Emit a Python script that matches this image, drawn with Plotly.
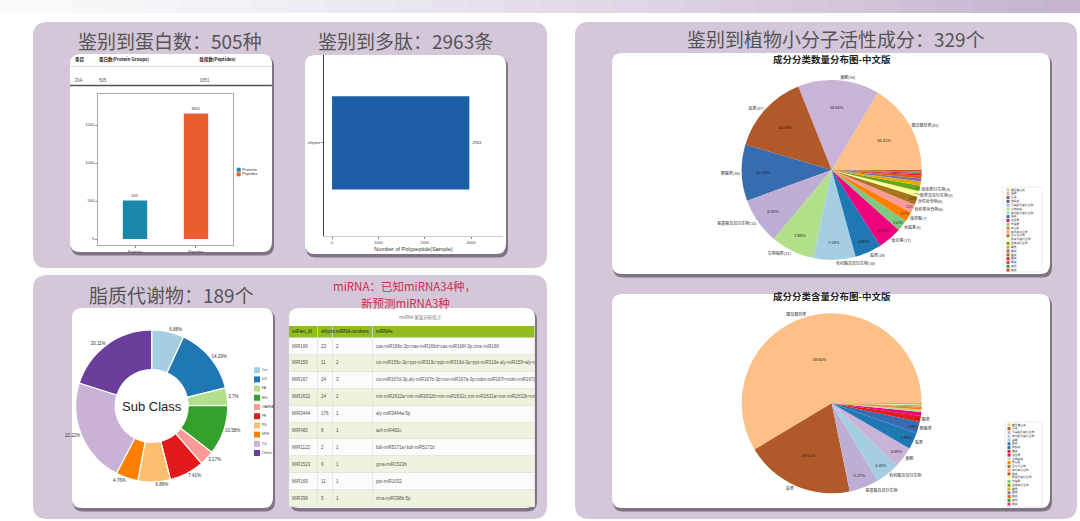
import plotly.graph_objects as go

W, H = 1080, 521

# ---------------- data ----------------
protein_header = ["条目", "蛋白数(Protein Groups)", "肽段数(Peptides)"]
protein_sample = ["DIA"]
protein_groups = [505]
peptide_count = [1651]

bar_categories = ["Proteins", "Peptides"]
bar_values = [505, 1651]

poly_sample = ["sthymz"]
poly_values = [2963]

count_labels = ["糖及糖苷类", "黄酮", "萜类", "酚酸类", "氨基酸及其衍生物", "生物碱类",
                "有机酸及其衍生物", "脂类", "香豆素", "木脂素", "核苷酸", "有机氧化合物",
                "含氮化合物", "醇类及其衍生物", "甾体类衍生物", "鞣质", "醌类", "醛类",
                "酯类", "酮类", "其他", "胺类"]
count_values = [65, 58, 57, 40, 33, 31, 30, 19, 17, 8, 7, 6, 6, 4, 4, 3, 2, 2, 1, 1, 1, 1]

content_labels = ["糖及糖苷类", "萜类", "氨基酸及其衍生物", "有机酸及其衍生物", "黄酮", "脂类",
                  "酚酸类", "酯类", "香豆素", "生物碱类", "核苷酸", "含氮化合物", "有机氧化合物",
                  "胺类", "醇类及其衍生物", "木脂素", "甾体类衍生物", "鞣质", "醌类", "醛类",
                  "其他", "酮类"]
content_values = [58.60, 19.62, 5.27, 4.45, 3.69, 2.96, 2.06, 1.10, 0.70, 0.45, 0.30,
                  0.20, 0.15, 0.12, 0.10, 0.06, 0.05, 0.04, 0.03, 0.02, 0.02, 0.01]

lipid_classes = ["Cer", "DG", "FA", "MG", "OAHFA", "PE", "PG", "SPH", "TG", "Others"]
lipid_counts = [13, 27, 7, 20, 6, 14, 13, 9, 42, 38]

mirna_fam = ["MIR166", "MIR159", "MIR167", "MIR2632", "MIR3444", "MIR482", "MIR1122",
             "MIR1523", "MIR169", "MIR398"]
mirna_sthymz = [23, 11, 24, 24, 176, 8, 2, 9, 11, 5]
mirna_numbers = [2, 2, 3, 2, 1, 1, 1, 1, 1, 1]
mirna_members = [
    "cas-miR166c-3p>cas-miR166d>cas-miR166f-3p,cme-miR166",
    "csi-miR159c-3p>ppt-miR319c>ppt-miR319d-3p>ppt-miR319e,aly-miR159>aly-miR159",
    "csi-miR167d-3p,aly-miR167b-3p>csi-miR167a-3p,mdm-miR167i>mdm-miR167j>mdm",
    "mtr-miR2632a>mtr-miR2632b>mtr-miR2632c,mtr-miR2632a>mtr-miR2632b>mtr-miR2",
    "aly-miR3444a-5p",
    "aof-miR482c",
    "bdi-miR5171a>bdi-miR5171b",
    "gma-miR1523b",
    "ppt-miR1032",
    "zma-miR398b-5p",
]
mirna_header = ["miFam_id", "sthymz", "miRNA numbers", "miRNAs"]

# ---------------- styles ----------------
CJK = "Noto Sans CJK SC"
LAT = "Liberation Sans"
PANEL = "#d5c7da"
TITLE_C = "#555555"

category_color = {
    "糖及糖苷类": "#fdc086", "黄酮": "#c9b3d6", "萜类": "#b15928", "酚酸类": "#386cb0",
    "氨基酸及其衍生物": "#beaed4", "生物碱类": "#b2df8a", "有机酸及其衍生物": "#a6cee3",
    "脂类": "#1f78b4", "香豆素": "#f0027f", "木脂素": "#7fc97f", "核苷酸": "#ff7f00",
    "有机氧化合物": "#fb9a99", "含氮化合物": "#a6761d", "醇类及其衍生物": "#ffff99",
    "甾体类衍生物": "#66a61e", "鞣质": "#e6ab02", "醌类": "#7570b3", "醛类": "#d95f02",
    "酯类": "#e41a1c", "酮类": "#e7298a", "其他": "#33a02c", "胺类": "#bf5b17",
}
lipid_colors = ["#a6cee3", "#1f78b4", "#b2df8a", "#33a02c", "#fb9a99", "#e31a1c",
                "#fdbf6f", "#ff7f00", "#cab2d6", "#6a3d9a"]
bar_colors = ["#1b87a9", "#ea5d2e"]

# miRNA table geometry (pixels)
mt_x0, mt_x1, mt_y0, mt_y1 = 289, 535, 326, 507
mt_colwidths = [29, 15, 40, 162]
mt_header_h, mt_row_h = 12, 16.9
mt_pad = 3


def X(px):
    return px / W


def Y(py):
    return 1 - py / H


def rrect(x0, y0, x1, y1, r):
    p = [
        f"M {X(x0 + r)},{Y(y0)}", f"L {X(x1 - r)},{Y(y0)}",
        f"Q {X(x1)},{Y(y0)} {X(x1)},{Y(y0 + r)}", f"L {X(x1)},{Y(y1 - r)}",
        f"Q {X(x1)},{Y(y1)} {X(x1 - r)},{Y(y1)}", f"L {X(x0 + r)},{Y(y1)}",
        f"Q {X(x0)},{Y(y1)} {X(x0)},{Y(y1 - r)}", f"L {X(x0)},{Y(y0 + r)}",
        f"Q {X(x0)},{Y(y0)} {X(x0 + r)},{Y(y0)}", "Z",
    ]
    return " ".join(p)


shapes = []


def add_rrect(x0, y0, x1, y1, r, fill, line_color=None, lw=0):
    shapes.append(dict(type="path", xref="paper", yref="paper", path=rrect(x0, y0, x1, y1, r),
                       fillcolor=fill, line=dict(width=lw, color=line_color or fill),
                       layer="below"))


# top gradient band
n_seg = 30
for i in range(n_seg):
    t = (i / (n_seg - 1)) ** 1.3
    r = int(250 + (196 - 250) * t)
    g = int(250 + (180 - 250) * t)
    b = int(252 + (206 - 252) * t)
    shapes.append(dict(type="rect", xref="paper", yref="paper",
                       x0=X(W * i / n_seg), x1=X(W * (i + 1) / n_seg) + 0.001,
                       y0=Y(13), y1=Y(0), fillcolor=f"rgb({r},{g},{b})",
                       line=dict(width=0), layer="below"))

# panels
add_rrect(33, 22, 547, 268, 14, PANEL)
add_rrect(33, 275, 547, 519, 14, PANEL)
add_rrect(575, 22, 1077, 519, 14, PANEL)

# cards with shadows
cards = [(70, 54, 272, 252), (305, 55, 506, 254), (612, 53, 1050, 274),
         (612, 294, 1050, 508), (72, 308, 273, 508), (289, 308, 535, 508)]
for (a, b, c, d) in cards:
    add_rrect(a + 1, b + 2, c + 2, d + 3.5, 10, "rgba(80,72,86,0.65)")
    add_rrect(a, b, c, d, 10, "white")

# legend boxes for the two right pies
add_rrect(1003, 187, 1042, 272, 1, "white", "#dddddd", 0.6)
add_rrect(1005, 422, 1042, 507, 1, "white", "#dddddd", 0.6)

# protein table rules
shapes.append(dict(type="line", xref="paper", yref="paper", x0=X(70), x1=X(272),
                   y0=Y(66.5), y1=Y(66.5), line=dict(color="#cccccc", width=0.6), layer="below"))
shapes.append(dict(type="line", xref="paper", yref="paper", x0=X(70), x1=X(272),
                   y0=Y(85.5), y1=Y(85.5), line=dict(color="#555555", width=1.5), layer="below"))

# grid colour behind the miRNA table (shows through cell gaps)
n_rows = len(mirna_fam)
mt_bottom = mt_y0 + mt_header_h + n_rows * mt_row_h
shapes.append(dict(type="rect", xref="paper", yref="paper", x0=X(mt_x0), x1=X(mt_x1),
                   y0=Y(mt_bottom), y1=Y(mt_y0), fillcolor="#dedede", line=dict(width=0),
                   layer="below"))

traces = []

# protein summary table
traces.append(go.Table(
    domain=dict(x=[X(67), X(272)], y=[Y(100), Y(48)]),
    columnwidth=[24, 101, 80],
    header=dict(values=[f"<b>{h}</b>" for h in protein_header], align="left",
                fill_color="rgba(0,0,0,0)", line=dict(color="rgba(0,0,0,0)", width=0),
                font=dict(size=4.5, color="#222", family=CJK), height=17),
    cells=dict(values=[protein_sample, protein_groups, peptide_count], align="left",
               fill_color="rgba(0,0,0,0)", line=dict(color="rgba(0,0,0,0)", width=0),
               font=dict(size=4.5, color="#555", family=LAT), height=19),
))

# protein / peptide bar chart
traces.append(go.Bar(x=bar_categories, y=bar_values, marker=dict(color=bar_colors, line=dict(width=0)),
                     width=0.4, text=bar_values, textposition="outside", cliponaxis=False,
                     textfont=dict(size=4, color="#333", family=LAT), xaxis="x", yaxis="y",
                     showlegend=False))
traces.append(go.Scatter(x=[0] * len(bar_categories), y=list(range(len(bar_categories))),
                         mode="markers+text", marker=dict(symbol="square", size=4, color=bar_colors),
                         text=bar_categories, textposition="middle right",
                         textfont=dict(size=4, color="#333", family=LAT), cliponaxis=False,
                         xaxis="x3", yaxis="y3", showlegend=False, hoverinfo="skip"))

# polypeptide bar
traces.append(go.Bar(x=poly_values, y=poly_sample, orientation="h", width=1.03,
                     marker=dict(color="#1b5ea6", line=dict(width=0)), text=poly_values,
                     textposition="outside", cliponaxis=False,
                     textfont=dict(size=4, color="#333", family=LAT),
                     xaxis="x2", yaxis="y2", showlegend=False))


# pies (right)
def pct_texts(vals):
    tot = sum(vals)
    return [f"{v / tot * 100:.2f}%" if v / tot >= 0.01 else "" for v in vals]


def ccw_rotation_from_3oclock(vals):
    # plotly puts the first slice clockwise of the rotation line when counterclockwise
    return 90 - 360 * vals[0] / sum(vals)


count_total = sum(count_values)
count_colors = [category_color[c] for c in count_labels]
count_outside = [f"{l}({v})" if v / count_total >= 0.01 else "" for l, v in zip(count_labels, count_values)]
count_rot = ccw_rotation_from_3oclock(count_values)
cx, cy, cr = 831.7, 170, 90
count_dom = dict(x=[X(cx - cr), X(cx + cr)], y=[Y(cy + cr), Y(cy - cr)])
traces.append(go.Pie(labels=count_labels, values=count_values, sort=False,
                     direction="counterclockwise", rotation=count_rot, domain=count_dom,
                     marker=dict(colors=count_colors, line=dict(width=0)),
                     text=pct_texts(count_values), textinfo="text", textposition="inside",
                     insidetextorientation="horizontal",
                     insidetextfont=dict(size=4, color="#222", family=LAT), showlegend=False))
traces.append(go.Pie(labels=count_labels, values=count_values, sort=False,
                     direction="counterclockwise", rotation=count_rot, domain=count_dom,
                     marker=dict(colors=["rgba(0,0,0,0)"] * len(count_values), line=dict(width=0)),
                     text=count_outside, textinfo="text", textposition="outside",
                     outsidetextfont=dict(size=4, color="#333", family=CJK), showlegend=False,
                     hoverinfo="skip"))
traces.append(go.Scatter(x=[0] * len(count_labels), y=list(range(len(count_labels))),
                         mode="markers+text", marker=dict(symbol="square", size=3, color=count_colors),
                         text=count_labels, textposition="middle right",
                         textfont=dict(size=2.8, color="#444", family=CJK), cliponaxis=False,
                         xaxis="x4", yaxis="y4", showlegend=False, hoverinfo="skip"))

content_total = sum(content_values)
content_colors = [category_color[c] for c in content_labels]
content_outside = [l if v / content_total >= 0.01 else "" for l, v in zip(content_labels, content_values)]
content_rot = ccw_rotation_from_3oclock(content_values)
px_, py_, pr = 831.7, 403.3, 90
content_dom = dict(x=[X(px_ - pr), X(px_ + pr)], y=[Y(py_ + pr), Y(py_ - pr)])
traces.append(go.Pie(labels=content_labels, values=content_values, sort=False,
                     direction="counterclockwise", rotation=content_rot, domain=content_dom,
                     marker=dict(colors=content_colors, line=dict(width=0)),
                     text=pct_texts(content_values), textinfo="text", textposition="inside",
                     insidetextorientation="horizontal",
                     insidetextfont=dict(size=4, color="#222", family=LAT), showlegend=False))
traces.append(go.Pie(labels=content_labels, values=content_values, sort=False,
                     direction="counterclockwise", rotation=content_rot, domain=content_dom,
                     marker=dict(colors=["rgba(0,0,0,0)"] * len(content_values), line=dict(width=0)),
                     text=content_outside, textinfo="text", textposition="outside",
                     outsidetextfont=dict(size=4, color="#333", family=CJK), showlegend=False,
                     hoverinfo="skip"))
traces.append(go.Scatter(x=[0] * len(content_labels), y=list(range(len(content_labels))),
                         mode="markers+text", marker=dict(symbol="square", size=3, color=content_colors),
                         text=content_labels, textposition="middle right",
                         textfont=dict(size=2.8, color="#444", family=CJK), cliponaxis=False,
                         xaxis="x5", yaxis="y5", showlegend=False, hoverinfo="skip"))

# lipid donut
lip_tot = sum(lipid_counts)
lipid_text = [f"{round(v / lip_tot * 100, 2):g}%" for v in lipid_counts]
dx, dy, dr = 151.7, 406, 76
traces.append(go.Pie(labels=lipid_classes, values=lipid_counts, sort=False, hole=0.48,
                     direction="clockwise", rotation=0,
                     domain=dict(x=[X(dx - dr), X(dx + dr)], y=[Y(dy + dr), Y(dy - dr)]),
                     marker=dict(colors=lipid_colors, line=dict(color="white", width=1.2)),
                     text=lipid_text, textinfo="text", textposition="outside",
                     outsidetextfont=dict(size=4.5, color="#333", family=LAT), showlegend=False))
traces.append(go.Scatter(x=[0] * len(lipid_classes), y=list(range(len(lipid_classes))),
                         mode="markers+text", marker=dict(symbol="square", size=6, color=lipid_colors),
                         text=lipid_classes, textposition="middle right",
                         textfont=dict(size=3.5, color="#444", family=LAT), cliponaxis=False,
                         xaxis="x6", yaxis="y6", showlegend=False, hoverinfo="skip"))

# miRNA table: cell fills as a heatmap, cell texts as text scatters
col_edges = [0]
for w_ in mt_colwidths:
    col_edges.append(col_edges[-1] + w_)
hdr_units = mt_header_h / mt_row_h
row_edges = [-hdr_units] + list(range(n_rows + 1))
fill_codes = [[2] * len(mt_colwidths)] + [[i % 2] * len(mt_colwidths) for i in range(n_rows)]
traces.append(go.Heatmap(
    z=fill_codes, x=col_edges, y=row_edges, zmin=0, zmax=2, showscale=False,
    colorscale=[[0, "#fbfbfb"], [0.25, "#fbfbfb"], [0.25, "#eef3dd"], [0.75, "#eef3dd"],
                [0.75, "#8fbe1e"], [1, "#8fbe1e"]],
    xgap=0.7, ygap=0.7, hoverinfo="skip", xaxis="x7", yaxis="y7"))
mt_columns = [mirna_fam, mirna_sthymz, mirna_numbers, mirna_members]
for j, col in enumerate(mt_columns):
    traces.append(go.Scatter(
        x=[col_edges[j] + mt_pad] * n_rows, y=[i + 0.5 for i in range(n_rows)],
        text=[str(v) for v in col], mode="text", textposition="middle right",
        textfont=dict(size=4.5, color="#555", family=LAT), cliponaxis=True,
        xaxis="x7", yaxis="y7", showlegend=False, hoverinfo="skip"))
traces.append(go.Scatter(
    x=[col_edges[j] + mt_pad for j in range(len(mirna_header))],
    y=[-hdr_units / 2] * len(mirna_header), text=mirna_header, mode="text",
    textposition="middle right", textfont=dict(size=4.5, color="#222", family=LAT),
    cliponaxis=True, xaxis="x7", yaxis="y7", showlegend=False, hoverinfo="skip"))

fig = go.Figure(data=traces)

tick_font = dict(size=4, color="#444", family=LAT)
hidden = dict(visible=False, showgrid=False, zeroline=False)
fig.update_layout(
    width=W, height=H, autosize=False, margin=dict(l=0, r=0, t=0, b=0),
    paper_bgcolor="white", plot_bgcolor="rgba(0,0,0,0)", showlegend=False,
    font=dict(family=LAT),
    shapes=shapes,
    xaxis=dict(domain=[X(98), X(233)], anchor="y", range=[-0.607, 1.607], showline=True,
               mirror=True, linecolor="#aaaaaa", linewidth=1, ticks="outside", ticklen=2,
               tickcolor="#888", tickfont=tick_font, showgrid=False, zeroline=False),
    yaxis=dict(domain=[Y(245), Y(94)], anchor="x", range=[-79, 1908], tickvals=[0, 500, 1000, 1500],
               showline=True, mirror=True, linecolor="#aaaaaa", linewidth=1, ticks="outside",
               ticklen=2, tickcolor="#888", tickfont=tick_font, showgrid=False, zeroline=False),
    xaxis2=dict(domain=[X(324), X(503)], anchor="y2", range=[-174, 3690],
                tickvals=[0, 1000, 2000, 3000], showline=True, linecolor="#cccccc", linewidth=0.8,
                ticks="outside", ticklen=2, tickcolor="#888", tickfont=tick_font, showgrid=False,
                zeroline=False,
                title=dict(text="Number of Polypeptide(Sample)", font=dict(size=5.5, color="#333"),
                           standoff=3)),
    yaxis2=dict(domain=[Y(236), Y(55)], anchor="x2", range=[-1.03, 0.97], showline=True,
                linecolor="#444", linewidth=1, ticks="outside", ticklen=2, tickcolor="#888",
                tickfont=tick_font, showgrid=False, zeroline=False),
    xaxis3=dict(domain=[X(236), X(262)], anchor="y3", range=[-2.7, 23.3], **hidden),
    yaxis3=dict(domain=[Y(176.6), Y(167.4)], anchor="x3", range=[1.5, -0.5], **hidden),
    xaxis4=dict(domain=[X(1004), X(1042)], anchor="y4", range=[-4, 34], **hidden),
    yaxis4=dict(domain=[Y(272), Y(188)], anchor="x4", range=[21.5, -0.5], **hidden),
    xaxis5=dict(domain=[X(1006), X(1042)], anchor="y5", range=[-3, 33], **hidden),
    yaxis5=dict(domain=[Y(506), Y(423)], anchor="x5", range=[21.5, -0.5], **hidden),
    xaxis6=dict(domain=[X(254), X(300)], anchor="y6", range=[-3, 43], **hidden),
    yaxis6=dict(domain=[Y(457.6), Y(365.6)], anchor="x6", range=[9.5, -0.5], **hidden),
    xaxis7=dict(domain=[X(mt_x0), X(mt_x1)], anchor="y7", range=[0, mt_x1 - mt_x0], **hidden),
    yaxis7=dict(domain=[Y(mt_bottom), Y(mt_y0)], anchor="x7", range=[n_rows, -hdr_units], **hidden),
)

annotations = [
    dict(text="鉴别到蛋白数：505种", x=X(170), y=Y(40), size=19, color=TITLE_C),
    dict(text="鉴别到多肽：2963条", x=X(405), y=Y(40), size=19, color=TITLE_C),
    dict(text="鉴别到植物小分子活性成分：329个", x=X(836), y=Y(39), size=19, color=TITLE_C),
    dict(text="脂质代谢物：189个", x=X(171), y=Y(294), size=19, color=TITLE_C),
    dict(text="miRNA：已知miRNA34种，", x=X(404), y=Y(285.5), size=11.5, color="#cf2f4b"),
    dict(text="新预测miRNA3种", x=X(405), y=Y(302.5), size=11.5, color="#cf2f4b"),
    dict(text="<b>成分分类数量分布图-中文版</b>", x=X(831.7), y=Y(59), size=9.5, color="#222"),
    dict(text="<b>成分分类含量分布图-中文版</b>", x=X(831.7), y=Y(296), size=9.5, color="#222"),
    dict(text="miRNA 家族分析统计", x=X(420), y=Y(317), size=4.5, color="#777"),
]
ann_objs = []
for a in annotations:
    ann_objs.append(dict(text=a["text"], x=a["x"], y=a["y"], xref="paper", yref="paper",
                         xanchor="center", yanchor="middle", showarrow=False,
                         font=dict(size=a["size"], color=a["color"], family=CJK)))
ann_objs.append(dict(text="Sub Class", x=X(dx), y=Y(dy), xref="paper", yref="paper",
                     xanchor="center", yanchor="middle", showarrow=False,
                     font=dict(size=13, color="#222", family=LAT)))
fig.update_layout(annotations=ann_objs)

fig.write_html("out.html", config={"displayModeBar": False},
               post_script="document.body.style.margin='0px';document.body.style.overflow='hidden';")
